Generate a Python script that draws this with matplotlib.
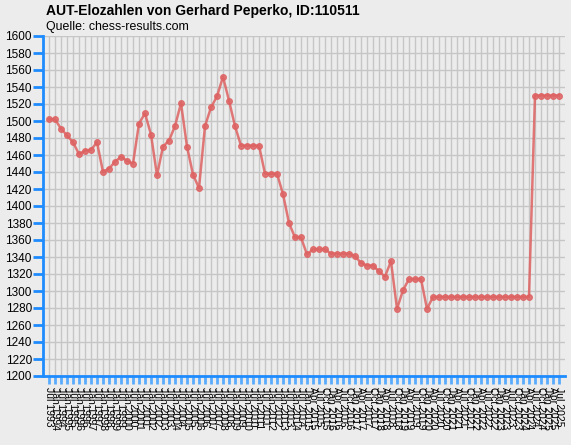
import numpy as np
import matplotlib.pyplot as plt

# Elo values per rating list
elo = [1502, 1502, 1491, 1483, 1475, 1461, 1465, 1466, 1475, 1440,
       1444, 1452, 1458, 1453, 1450, 1497, 1509, 1484, 1436, 1470,
       1477, 1494, 1521, 1470, 1437, 1421, 1494, 1516, 1529, 1552,
       1524, 1494, 1471, 1471, 1471, 1471, 1438, 1438, 1438, 1414,
       1380, 1363, 1363, 1343, 1349, 1349, 1349, 1344, 1344, 1344,
       1344, 1341, 1333, 1330, 1330, 1323, 1317, 1335, 1279, 1301,
       1314, 1314, 1314, 1279, 1293, 1293, 1293, 1293, 1293, 1293,
       1293, 1293, 1293, 1293, 1293, 1293, 1293, 1293, 1293, 1293,
       1293, 1530, 1530, 1530, 1530, 1530]

# list dates: half-yearly first, quarterly later
halfyear = ['Jan', 'Jul']
quarter = ['Jan', 'Apr', 'Jul', 'Oct']
labels = []
for k in range(43):
    m = (k + 1) % 2
    y = 1993 + (k + 1) // 2
    labels.append(f"{halfyear[m]} {y}")
for k in range(43):
    y = 2015 + k // 4
    labels.append(f"{quarter[k % 4]} {y}")

title = "AUT-Elozahlen von Gerhard Peperko, ID:110511"
subtitle = "Quelle: chess-results.com"

bg = '#ECECEC'
blue = '#1E8CFF'

fig = plt.figure(figsize=(5.71, 4.45), dpi=100, facecolor=bg)
ax = fig.add_axes([43 / 571, 69 / 445, 522 / 571, 340 / 445])
ax.set_facecolor(bg)

x = np.arange(len(elo))
ax.plot(x, elo, color='#DE6262', alpha=0.85, lw=1.8, marker='o',
        markersize=4.2, markeredgewidth=0.8, zorder=3)

ax.set_ylim(1200, 1600)
ax.set_yticks(np.arange(1200, 1601, 20))
ax.set_xlim(-1, len(elo))
ax.set_xticks(x)
ax.set_xticklabels(labels, rotation=-90, fontsize=7.5, family='Liberation Sans')

ax.grid(True, color='#C6C6C6', lw=1)
ax.set_axisbelow(True)

for s in ['top', 'right']:
    ax.spines[s].set_visible(False)
ax.spines['left'].set_color(blue)
ax.spines['left'].set_linewidth(2)
ax.spines['bottom'].set_color(blue)
ax.spines['bottom'].set_linewidth(2)
ax.tick_params(axis='y', colors=blue, length=7, width=2, labelsize=8.5, labelcolor='black', pad=1)
ax.tick_params(axis='x', colors='#5AABFF', length=6, width=2, labelcolor='black', pad=2)
for t in ax.get_yticklabels():
    t.set_family('Liberation Sans')

fig.text(46 / 571, 1 - 4 / 445, title, fontsize=10, fontweight='bold',
         family='Liberation Sans', va='top', ha='left')
fig.text(46 / 571, 1 - 21 / 445, subtitle, fontsize=8.9,
         family='Liberation Sans', va='top', ha='left')

fig.savefig('out.png', dpi=100, facecolor=bg)
